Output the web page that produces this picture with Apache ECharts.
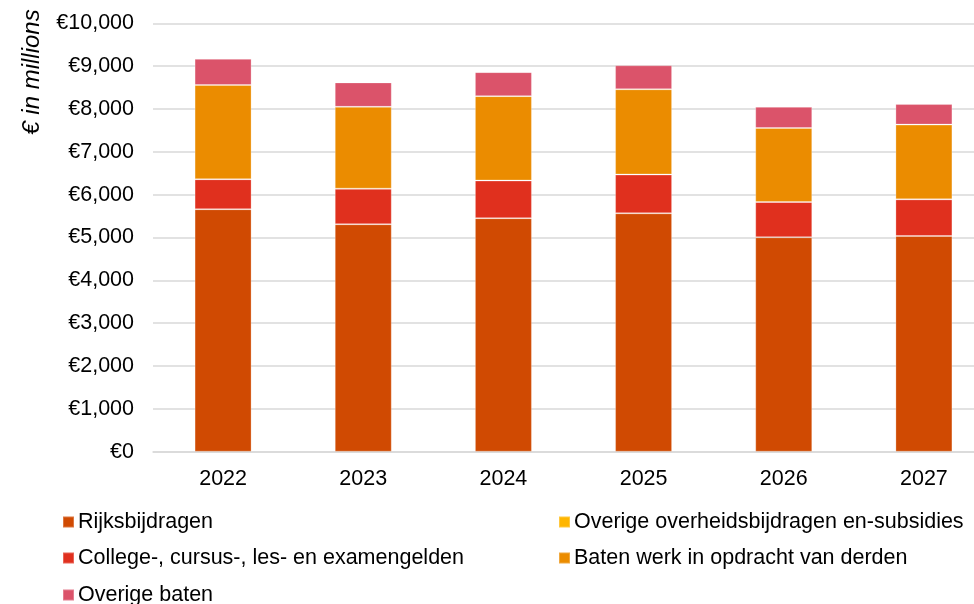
<!DOCTYPE html>
<html>
<head>
<meta charset="utf-8">
<script src="https://cdn.jsdelivr.net/npm/echarts@6/dist/echarts.min.js"></script>
<style>
  html, body { margin: 0; padding: 0; background: #fff; }
  #chart { width: 974px; height: 604px; }
</style>
</head>
<body>
<div id="chart"></div>
<script>
// categories + stacked series (€ millions)
const years = ['2022', '2023', '2024', '2025', '2026', '2027']
const rijksbijdragen = [5660, 5310, 5450, 5565, 5005, 5035]
const collegegelden = [700, 830, 880, 905, 825, 855]
const overigeOverheid = [0, 0, 0, 0, 0, 0]
const batenDerden = [2200, 1910, 1970, 1990, 1725, 1745]
const overigeBaten = [610, 570, 560, 560, 495, 480]
const yTicks = [0, 1000, 2000, 3000, 4000, 5000, 6000, 7000, 8000, 9000, 10000]

const font = 'Liberation Sans, Arial, sans-serif'
const fs = 21.5

const chart = echarts.init(document.getElementById('chart'))

function bar(name, data, color) {
  return {
    name: name,
    type: 'bar',
    stack: 'total',
    barWidth: 57,
    data: data,
    itemStyle: {
      color: color,
      borderColor: 'rgba(255,255,255,0.25)',
      borderWidth: 1
    }
  }
}

// legend laid out as in the reference: two columns, row-major
const legendSlots = [
  { name: 'Rijksbijdragen', left: 62, mid: 522 },
  { name: 'Overige overheidsbijdragen en-subsidies', left: 558, mid: 522 },
  { name: 'College-, cursus-, les- en examengelden', left: 62, mid: 558 },
  { name: 'Baten werk in opdracht van derden', left: 558, mid: 558 },
  { name: 'Overige baten', left: 62, mid: 595 }
]

chart.setOption({
  animation: false,
  grid: {
    left: 153,
    width: 841,
    top: 23.3,
    bottom: 152.3,
    outerBoundsMode: 'none'
  },
  xAxis: {
    type: 'category',
    data: years,
    axisTick: { show: false },
    axisLine: { lineStyle: { color: '#d9d9d9', width: 1.5 } },
    axisLabel: {
      margin: 16,
      fontFamily: font,
      fontSize: fs,
      color: '#000'
    }
  },
  yAxis: {
    type: 'value',
    min: yTicks[0],
    max: yTicks[yTicks.length - 1],
    interval: 1000,
    axisLine: { show: false },
    axisTick: { show: false },
    splitLine: { lineStyle: { color: '#d9d9d9', width: 1.5 } },
    axisLabel: {
      margin: 19,
      fontFamily: font,
      fontSize: fs,
      color: '#000',
      formatter: v => '€' + v.toLocaleString('en-US')
    }
  },
  graphic: [
    {
      type: 'text',
      x: 32,
      y: 72,
      rotation: Math.PI / 2,
      style: {
        text: '€ in millions',
        font: 'italic 24px ' + font,
        fill: '#000',
        textAlign: 'center',
        textVerticalAlign: 'middle'
      }
    }
  ],
  legend: legendSlots.map(s => ({
    left: s.left,
    top: s.mid - 11,
    padding: 0,
    itemWidth: 11,
    itemHeight: 11,
    itemGap: 0,
    icon: 'rect',
    textStyle: { fontFamily: font, fontSize: fs, color: '#000', lineHeight: 22, padding: [0, 0, 0, -1] },
    data: [s.name]
  })),
  series: [
    bar('Rijksbijdragen', rijksbijdragen, '#D04A02'),
    bar('College-, cursus-, les- en examengelden', collegegelden, '#E0301E'),
    bar('Overige overheidsbijdragen en-subsidies', overigeOverheid, '#FFB600'),
    bar('Baten werk in opdracht van derden', batenDerden, '#EB8C00'),
    bar('Overige baten', overigeBaten, '#DB536A')
  ]
})
</script>
</body>
</html>
